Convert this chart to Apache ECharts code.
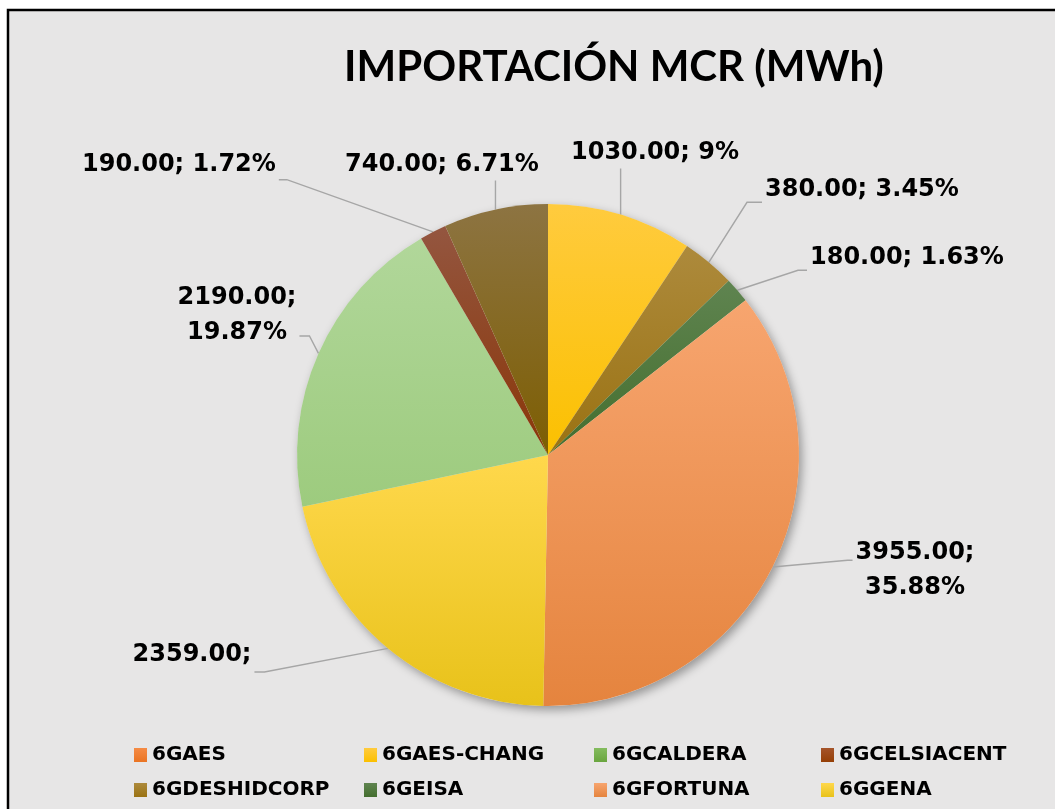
<!DOCTYPE html>
<html>
<head>
<meta charset="utf-8">
<script src="https://cdn.jsdelivr.net/npm/echarts@6/dist/echarts.min.js"></script>
<style>
  html, body { margin: 0; padding: 0; background: #ffffff; }
  #main { width: 1055px; height: 809px; }
</style>
</head>
<body>
<div id="main"></div>
<script>
// datos (orden de la serie, sentido horario desde arriba)
var categorias = ['6GAES', '6GAES-CHANG', '6GCALDERA', '6GCELSIACENT', '6GDESHIDCORP', '6GEISA',
                  '6GFORTUNA', '6GGENA', 'Serie 9', 'Serie 10', 'Serie 11'];
var valores = [0, 1030, 0, 0, 380, 180, 3955, 2359, 2190, 190, 740];
// textos de porcentaje tal como aparecen en las etiquetas
var porcentajes = ['', '9%', '', '', '3.45%', '1.63%', '35.88%', ' ', '19.87%', '1.72%', '6.71%'];
var saltoLinea = [false, false, false, false, false, false, true, true, true, false, false];
var leyendaVisible = ['6GAES', '6GAES-CHANG', '6GCALDERA', '6GCELSIACENT',
                      '6GDESHIDCORP', '6GEISA', '6GFORTUNA', '6GGENA'];

// colores (arriba claro -> abajo oscuro)
var colores = [
  ['#F58B45', '#EA7423'],
  ['#FFCB3E', '#FBC000'],
  ['#84BC5E', '#6AA53F'],
  ['#A5542A', '#953F06'],
  ['#AD8A3C', '#9A7212'],
  ['#5F8450', '#446E2E'],
  ['#F7A56F', '#E5843E'],
  ['#FFD84C', '#E8C21A'],
  ['#B1D79A', '#9DCB7E'],
  ['#945640', '#8A3608'],
  ['#8D7442', '#7D5E02']
];

// ubicación de las etiquetas como en el original: [x, y, alineación, lado de la línea, fracción vertical, codo]
var posEtiquetas = [
  null,
  [571, 153, 'left', 'abajo'],
  null, null,
  [765, 190, 'left', 'izq', 0.85, 15],
  [810, 258, 'left', 'izq', 0.85, 9],
  [915, 570, 'center', 'izq', 0.36, 5],
  [192, 672, 'center', 'der', 0.5, 10],
  [237, 315, 'center', 'der', 0.8, 10],
  [82, 165, 'left', 'der', 0.92, 8],
  [345, 165, 'left', 'abajo']
];

function grad(c) {
  return { type: 'linear', x: 0, y: 0, x2: 0, y2: 1,
           colorStops: [{ offset: 0, color: c[0] }, { offset: 1, color: c[1] }] };
}

var fuenteTitulo = 'Lato, "Open Sans", sans-serif';
var fuente = '"DejaVu Sans", Verdana, sans-serif';

var datos = categorias.map(function (nombre, i) {
  var d = { name: nombre, value: valores[i], itemStyle: { color: grad(colores[i]) } };
  if (valores[i] === 0) {
    d.label = { show: false };
    d.labelLine = { show: false };
  }
  return d;
});

var leyendas = [];
var colX = [129, 359, 589, 816];
var filaY = [740, 775];
leyendaVisible.forEach(function (nombre, i) {
  leyendas.push({
    data: [nombre],
    left: colX[i % 4],
    top: filaY[Math.floor(i / 4)],
    icon: 'rect',
    itemWidth: 13,
    itemHeight: 14,
    itemGap: 4,
    textStyle: { fontFamily: fuente, fontWeight: 'bold', fontSize: 20, color: '#000' },
    selectedMode: false
  });
});

var centro = [548, 455];
var radio = 251;

var myChart = echarts.init(document.getElementById('main'));
var option = {
  backgroundColor: '#ffffff',
  animation: false,
  graphic: [{
    type: 'rect',
    z: -10,
    shape: { x: 8, y: 10, width: 1100, height: 900 },
    style: { fill: '#E7E6E6', stroke: '#000000', lineWidth: 2.5 }
  }],
  title: {
    text: 'IMPORTACIÓN MCR (MWh)',
    left: 609,
    top: 41,
    textAlign: 'center',
    textStyle: { fontFamily: fuenteTitulo, fontWeight: 'bold', fontSize: 42, color: '#000' }
  },
  legend: leyendas,
  series: [{
    // sombra del círculo completo
    type: 'pie',
    center: centro,
    radius: radio,
    silent: true,
    z: 1,
    label: { show: false },
    labelLine: { show: false },
    itemStyle: {
      color: '#E7E6E6',
      shadowBlur: 10,
      shadowOffsetX: 3,
      shadowOffsetY: 4,
      shadowColor: 'rgba(0,0,0,0.35)'
    },
    data: [{ name: 'sombra', value: 1 }]
  }, {
    type: 'pie',
    center: centro,
    radius: radio,
    startAngle: 90,
    clockwise: true,
    silent: true,
    z: 2,
    label: {
      show: true,
      position: 'outside',
      fontFamily: fuente,
      fontWeight: 'bold',
      fontSize: 24,
      color: '#000',
      lineHeight: 35,
      formatter: function (p) {
        var i = p.dataIndex;
        var txt = valores[i].toFixed(2) + ';';
        if (porcentajes[i]) txt += (saltoLinea[i] ? '\n' : ' ') + porcentajes[i];
        return txt;
      }
    },
    labelLine: {
      show: true,
      length: 25,
      length2: 20,
      lineStyle: { color: '#A6A6A6', width: 1.4 }
    },
    labelLayout: function (p) {
      var pos = posEtiquetas[p.dataIndex];
      if (!pos) return {};
      var w = p.labelRect.width, h = p.labelRect.height;
      var x0 = pos[2] === 'center' ? pos[0] - w / 2 : pos[0];
      var y0 = pos[1] - h / 2;
      var ini = p.labelLinePoints[0];
      var fin, codo;
      if (pos[3] === 'abajo') {
        fin = [ini[0], y0 + h - 2];
        codo = fin;
      } else if (pos[3] === 'izq') {
        fin = [x0 - 3, y0 + h * pos[4]];
        codo = [fin[0] - pos[5], fin[1]];
      } else {
        fin = [x0 + w + 3, y0 + h * pos[4]];
        codo = [fin[0] + pos[5], fin[1]];
      }
      return {
        x: pos[0], y: pos[1], align: pos[2], verticalAlign: 'middle',
        labelLinePoints: [ini, codo, fin]
      };
    },
    data: datos
  }]
};
myChart.setOption(option);
</script>
</body>
</html>
